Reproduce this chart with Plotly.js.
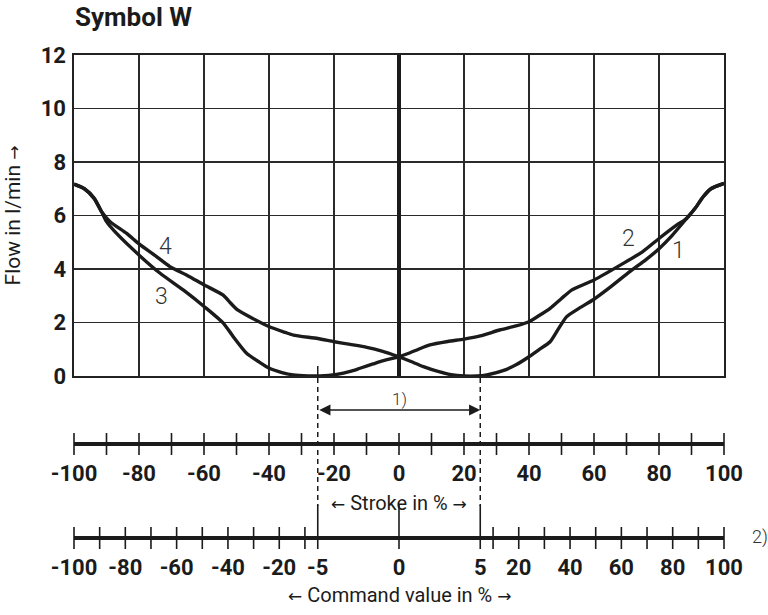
<!DOCTYPE html>
<html>
<head>
<meta charset="utf-8">
<script src="https://cdn.plot.ly/plotly-3.0.1.min.js"></script>
<style>html,body{margin:0;padding:0;background:#fff;}#chart{width:768px;height:615px;}</style>
</head>
<body>
<div id="chart"></div>
<script>
// ---- Data ----
// Curve 3 (left, lower branch) x / y
const curve3X = [-100, -96.8, -93.8, -91.5, -90, -86.9, -79.7, -73.5, -66, -59.9, -54, -51, -46.9, -43, -39.9, -36, -32.5, -28, -24.3, -19.2, -15, -12, -8, -5.8, -3, 0];
const curve3Y = [7.17, 7.0, 6.64, 6.14, 5.77, 5.33, 4.49, 3.84, 3.18, 2.59, 1.97, 1.47, 0.85, 0.52, 0.29, 0.13, 0.04, 0.005, 0, 0.06, 0.17, 0.29, 0.45, 0.54, 0.63, 0.72];
// Curve 4 (left, upper branch)
const curve4X = [-100, -96.8, -93.8, -91.5, -88.9, -83.8, -79.9, -75, -70.5, -65, -59.9, -54.2, -52, -49.9, -45, -39.9, -35, -32.5, -25, -19.9, -15, -9.9, -5, 0];
const curve4Y = [7.17, 7.0, 6.64, 6.14, 5.77, 5.33, 4.93, 4.5, 4.09, 3.75, 3.4, 3.03, 2.75, 2.49, 2.15, 1.84, 1.63, 1.53, 1.4, 1.28, 1.18, 1.07, 0.92, 0.72];
// Curve 2 (right, upper branch)
const curve2X = [0, 3, 6, 9.5, 15, 20, 25, 31, 36, 40, 43, 46.5, 50, 53.1, 60, 69, 75, 80.1, 85.4, 88.5, 91, 93.6, 96, 100];
const curve2Y = [0.72, 0.85, 1.0, 1.16, 1.29, 1.38, 1.5, 1.72, 1.87, 2.03, 2.25, 2.53, 2.9, 3.21, 3.59, 4.21, 4.65, 5.15, 5.64, 5.89, 6.25, 6.7, 7.0, 7.2];
// Curve 1 (right, lower branch)
const curve1X = [0, 3.5, 7.5, 12, 16, 20, 24, 27, 32, 36, 40, 43, 46.5, 49, 51.6, 55, 60, 65, 71, 76, 80.1, 84, 88.5, 91, 93.6, 96, 100];
const curve1Y = [0.72, 0.55, 0.35, 0.17, 0.05, 0, 0, 0.04, 0.2, 0.42, 0.72, 0.98, 1.28, 1.75, 2.22, 2.5, 2.87, 3.32, 3.9, 4.35, 4.77, 5.25, 5.89, 6.25, 6.7, 7.0, 7.2];

const curveLabelText = ['1', '2', '3', '4'];
const curveLabelX = [85.9, 70.6, -73, -72];
const curveLabelY = [4.71, 5.15, 2.97, 4.83];

const yTickVals = [0, 2, 4, 6, 8, 10, 12];
const xGridVals = [-100, -80, -60, -40, -20, 0, 20, 40, 60, 80, 100];

// Stroke scale
const strokeTicks = [-100, -90, -80, -70, -60, -50, -40, -30, -20, -10, 0, 10, 20, 30, 40, 50, 60, 70, 80, 90, 100];
const strokeLabels = [-100, -80, -60, -40, -20, 0, 20, 40, 60, 80, 100];
const deadbandStroke = [-25, 25];

// Command value scale (piecewise: -100..-5 | -5..5 | 5..100)
const commandBreaks = [-100, -5, 5, 100];
const commandBreaksOnStroke = [-100, -25, 25, 100];
const commandLeftTicks = [-100, -90, -80, -70, -60, -50, -40, -30, -20, -10];
const commandCenterTicks = [-5, 0, 5];
const commandRightTicks = [10, 20, 30, 40, 50, 60, 70, 80, 90, 100];
const commandLeftLabels = [-100, -80, -60, -40, -20, -5];
const commandCenterLabels = [0];
const commandRightLabels = [5, 20, 40, 60, 80, 100];

// ---- Styling ----
const INK = '#1b1b1b';
const FONT = 'Roboto, Open Sans, Noto Sans, sans-serif';
const boldTick = {family: FONT, size: 22, color: INK, weight: 'bold'};
const H = 560; // paper height (margin t=55, b=0)
const fy = px => (615 - px) / H;

function curve(x, y) {
  return {x: x, y: y, xaxis: 'x', yaxis: 'y', mode: 'lines', type: 'scatter',
    line: {color: INK, width: 3.4, shape: 'spline', smoothing: 0.6}, hoverinfo: 'skip'};
}
function axisLine(x, xa, ya) {
  return {x: [Math.min(...x), Math.max(...x)], y: [0, 0], xaxis: xa, yaxis: ya, mode: 'lines',
    line: {color: INK, width: 4}, hoverinfo: 'skip'};
}
function tickMarks(x, yc, len, xa, ya) {
  return {x: x, y: x.map(() => yc), xaxis: xa, yaxis: ya, mode: 'markers', cliponaxis: false,
    marker: {symbol: 'line-ns', size: len / 1.4, color: INK, line: {color: INK, width: 1.6}}, hoverinfo: 'skip'};
}

const traces = [
  curve(curve3X, curve3Y), curve(curve4X, curve4Y), curve(curve2X, curve2Y), curve(curve1X, curve1Y),
  axisLine(strokeTicks, 'x2', 'y2'),
  tickMarks(strokeTicks, 0, 22, 'x2', 'y2'),
  axisLine([commandBreaks[0], commandBreaks[1]], 'x3', 'y3'),
  axisLine([commandBreaks[1], commandBreaks[2]], 'x4', 'y3'),
  axisLine([commandBreaks[2], commandBreaks[3]], 'x5', 'y3'),
  tickMarks(commandLeftTicks, 0, 22, 'x3', 'y3'),
  tickMarks(commandRightTicks, 0, 22, 'x5', 'y3'),
  tickMarks(commandCenterTicks, 11, 44, 'x4', 'y3')
];

const dom = s => (s + 100) / 200;
const segDom = i => [dom(commandBreaksOnStroke[i]), dom(commandBreaksOnStroke[i + 1])];

function labelAxis(range, domain, vals, anchor) {
  return {range: range, domain: domain, anchor: anchor, tickvals: vals, ticktext: vals.map(String),
    showgrid: false, zeroline: false, showline: false, ticks: '', tickfont: boldTick,
    ticklabelstandoff: 3, fixedrange: true};
}

const arrowFont = 'DejaVu Sans, sans-serif';
const withArrows = t => '<span style="font-family:' + arrowFont + ';font-size:17px">←</span> ' + t +
  ' <span style="font-family:' + arrowFont + ';font-size:17px">→</span>';

const annotations = [];
curveLabelText.forEach((t, i) => annotations.push({
  x: curveLabelX[i], y: curveLabelY[i], xref: 'x', yref: 'y', text: t, showarrow: false,
  xanchor: 'center', yanchor: 'middle',
  font: {family: FONT, size: 23, color: '#333', weight: 300}
}));
annotations.push({x: deadbandStroke[1], y: fy(410), xref: 'x', yref: 'paper', ax: deadbandStroke[0], ay: 0,
  axref: 'x', ayref: 'pixel', text: '', showarrow: true, arrowside: 'end+start', arrowhead: 2,
  arrowsize: 1.4, arrowwidth: 1.6, arrowcolor: INK, standoff: 0, startstandoff: 0});
annotations.push({x: 0, y: fy(399), xref: 'x', yref: 'paper', text: '1)', showarrow: false,
  xanchor: 'center', yanchor: 'middle', font: {family: FONT, size: 17, color: '#333', weight: 300}});
annotations.push({x: 0, y: fy(503), xref: 'x', yref: 'paper', text: withArrows('Stroke in %'), showarrow: false,
  xanchor: 'center', yanchor: 'middle', font: {family: FONT, size: 20, color: INK}});
annotations.push({x: 0, y: fy(595), xref: 'x', yref: 'paper', text: withArrows('Command value in %'), showarrow: false,
  xanchor: 'center', yanchor: 'middle', font: {family: FONT, size: 20, color: INK}});
annotations.push({x: (760 - 74) / 650, y: fy(537), xref: 'paper', yref: 'paper', text: '2)', showarrow: false,
  xanchor: 'center', yanchor: 'middle', font: {family: FONT, size: 18, color: '#333', weight: 300}});

const shapes = [];
deadbandStroke.forEach(s => {
  shapes.push({type: 'line', xref: 'x', yref: 'paper', x0: s, x1: s, y0: fy(366), y1: fy(378),
    line: {color: INK, width: 1.5}});
  shapes.push({type: 'line', xref: 'x', yref: 'paper', x0: s, x1: s, y0: fy(378), y1: fy(506),
    line: {color: INK, width: 1.5, dash: '5px,4px'}});
});

const layout = {
  width: 768, height: 615,
  margin: {l: 74, r: 44, t: 55, b: 0},
  paper_bgcolor: '#fff', plot_bgcolor: '#fff',
  showlegend: false, hovermode: false,
  title: {text: 'Symbol W', x: 75 / 768, xref: 'container', xanchor: 'left', y: 1 - 17 / 615, yref: 'container',
    yanchor: 'middle', font: {family: FONT, size: 26, color: INK, weight: 'bold'}},
  xaxis: {range: [-100, 100], domain: [0, 1], anchor: 'y', tickvals: xGridVals, showticklabels: false, ticks: '',
    showgrid: true, gridcolor: '#2a2a2a', gridwidth: 1.3,
    zeroline: true, zerolinecolor: INK, zerolinewidth: 3.5,
    showline: true, mirror: true, linecolor: '#222', linewidth: 1.6, fixedrange: true},
  yaxis: {range: [0, 12], domain: [fy(376), 1], anchor: 'x', tickvals: yTickVals, ticks: '',
    tickfont: boldTick, ticklabelstandoff: 2,
    showgrid: true, gridcolor: '#2a2a2a', gridwidth: 1.3, zeroline: false,
    showline: true, mirror: true, linecolor: '#222', linewidth: 1.6, fixedrange: true,
    title: {text: 'Flow in l/min <span style="font-family:DejaVu Sans, sans-serif;font-size:17px">→</span>',
      standoff: 14, font: {family: FONT, size: 21, color: INK}}},
  xaxis2: labelAxis([-100, 100], [0, 1], strokeLabels, 'y2'),
  yaxis2: {range: [-11, 11], domain: [fy(455), fy(433)], anchor: 'x2', visible: false, fixedrange: true},
  xaxis3: labelAxis([commandBreaks[0], commandBreaks[1]], segDom(0), commandLeftLabels, 'y3'),
  xaxis4: labelAxis([commandBreaks[1], commandBreaks[2]], segDom(1), commandCenterLabels, 'y3'),
  xaxis5: labelAxis([commandBreaks[2], commandBreaks[3]], segDom(2), commandRightLabels, 'y3'),
  yaxis3: {range: [-11, 33], domain: [fy(549), fy(505)], anchor: 'x3', visible: false, fixedrange: true},
  annotations: annotations,
  shapes: shapes
};

Plotly.newPlot('chart', traces, layout, {staticPlot: true, displayModeBar: false});
</script>
</body>
</html>
